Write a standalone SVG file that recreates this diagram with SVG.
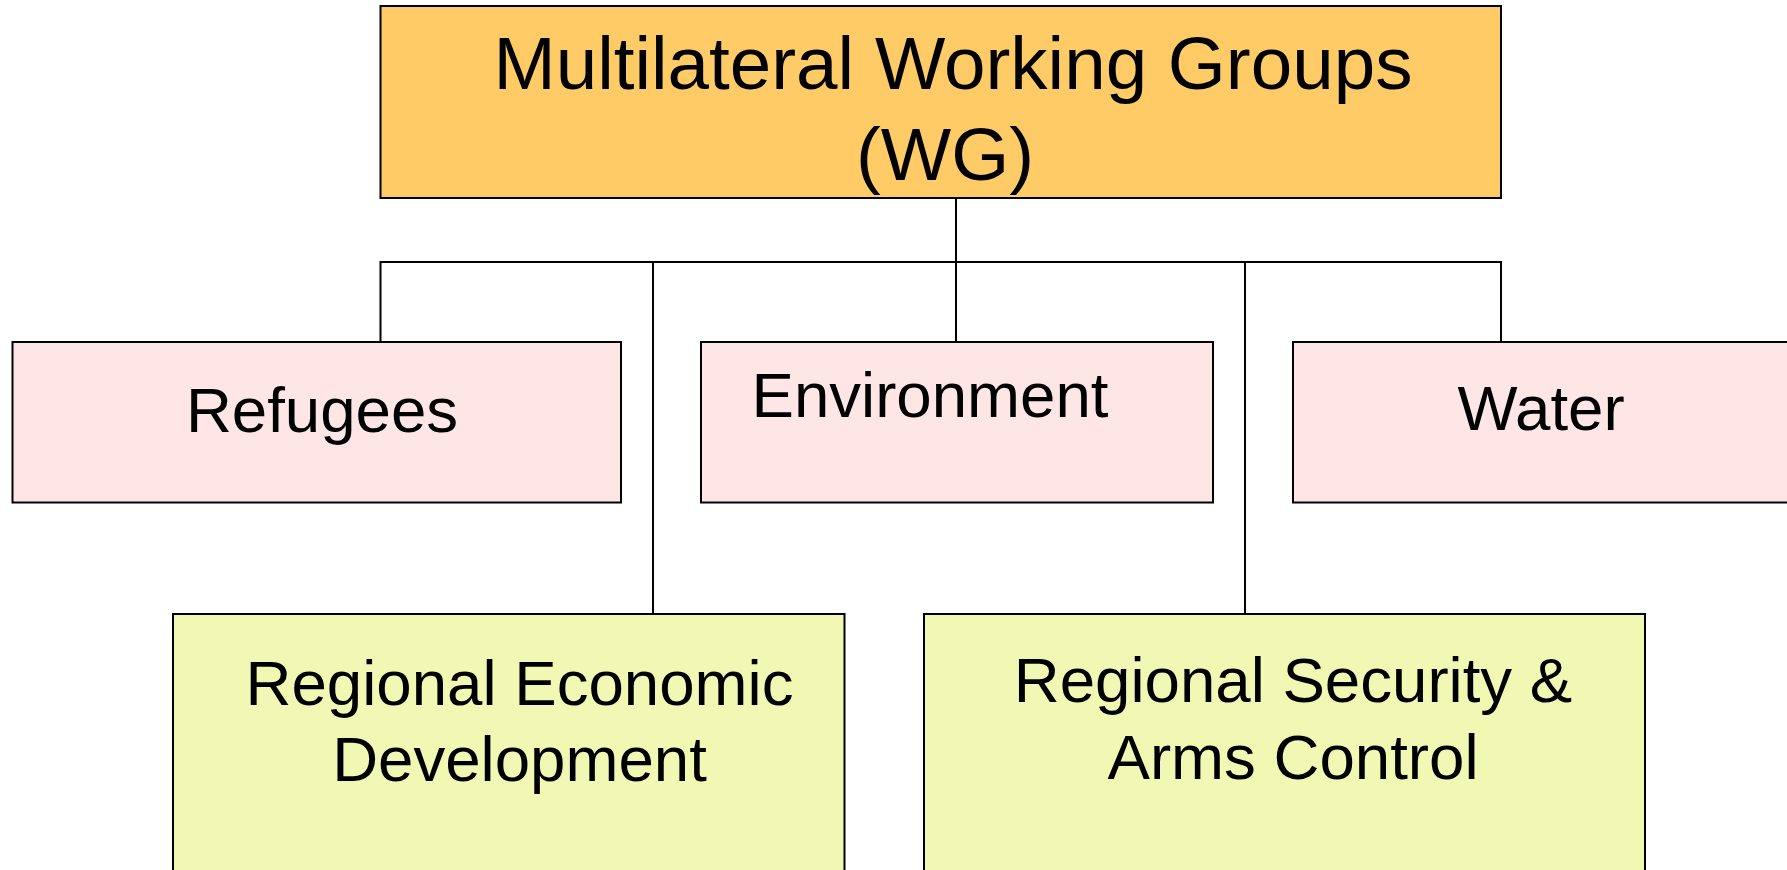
<svg xmlns="http://www.w3.org/2000/svg" width="1787" height="870" viewBox="0 0 1787 870">
<style>
.box{stroke:#000;stroke-width:2}
.top{fill:#FECB66}
.pink{fill:#FFE6E6}
.green{fill:#F1F8B4}
.conn{stroke:#000;stroke-width:2;fill:none}
text{font-family:"Liberation Sans",Arial,sans-serif;fill:#000;text-anchor:middle}
.t1{font-size:74.6px}
.t2{font-size:63.6px}
</style>
<rect width="1787" height="870" fill="#fff"/>
<g id="connectors">
<path class="conn" d="M956 198 V342"/>
<path class="conn" d="M380.5 342 V262 H1501 V342"/>
<path class="conn" d="M653 262 V614"/>
<path class="conn" d="M1245 262 V614"/>
</g>
<g id="node-wg">
<rect class="box top" x="380.5" y="6" width="1120.5" height="192"/>
<text class="t1" x="953" y="89">Multilateral Working Groups</text>
<text class="t1" x="945" y="180">(WG)</text>
</g>
<g id="node-refugees">
<rect class="box pink" x="12.5" y="342" width="608.5" height="160.5"/>
<text class="t2" x="322" y="432">Refugees</text>
</g>
<g id="node-environment">
<rect class="box pink" x="701" y="342" width="512" height="160.5"/>
<text class="t2" x="930" y="417">Environment</text>
</g>
<g id="node-water">
<rect class="box pink" x="1293" y="342" width="500" height="160.5"/>
<text class="t2" x="1541" y="430">Water</text>
</g>
<g id="node-red">
<rect class="box green" x="173" y="614" width="671.5" height="270"/>
<text class="t2" x="519.5" y="705">Regional Economic</text>
<text class="t2" x="519.5" y="781">Development</text>
</g>
<g id="node-rsac">
<rect class="box green" x="924" y="614" width="721" height="270"/>
<text class="t2" x="1293" y="702">Regional Security &amp;</text>
<text class="t2" x="1293" y="779">Arms Control</text>
</g>
</svg>
